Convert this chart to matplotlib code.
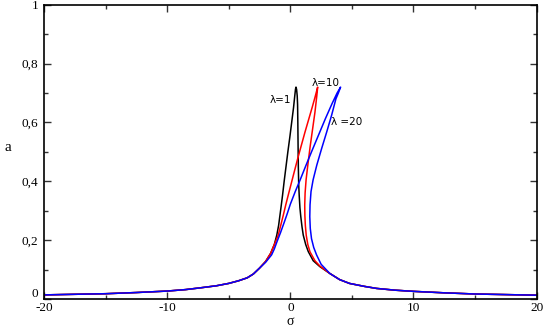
import matplotlib
import matplotlib.pyplot as plt
from matplotlib.ticker import MultipleLocator, FuncFormatter

matplotlib.use('Agg')

# values (sigma, a)
left_tail_sigma = [-20, -17.5, -15, -12.5, -10, -8.5, -7.3, -6, -5, -4.2, -3.5, -3.0, -2.5]
left_tail_a = [0.014, 0.016, 0.018, 0.022, 0.027, 0.032, 0.038, 0.045, 0.053, 0.062, 0.072, 0.085, 0.105]

right_tail_sigma = [3.2, 4.0, 4.8, 6.0, 7.0, 8.5, 10, 12.5, 15, 17.5, 20]
right_tail_a = [0.087, 0.066, 0.053, 0.043, 0.036, 0.030, 0.026, 0.021, 0.017, 0.015, 0.013]

# lambda = 1
l1_sigma = [-2.0, -1.6, -1.3, -1.1, -0.95, -0.84, -0.73, -0.63, -0.5, -0.35, -0.2, -0.04, 0.11, 0.26,
            0.36, 0.42, 0.46, 0.51, 0.56, 0.59, 0.61, 0.63, 0.65, 0.68, 0.72, 0.78, 0.85, 0.95, 1.05,
            1.25, 1.46, 1.86, 2.4]
l1_a = [0.128, 0.155, 0.185, 0.217, 0.25, 0.285, 0.32, 0.353, 0.40, 0.45, 0.50, 0.55, 0.60, 0.65,
        0.69, 0.713, 0.72, 0.712, 0.69, 0.66, 0.60, 0.52, 0.45, 0.39, 0.353, 0.31, 0.28, 0.245, 0.217,
        0.185, 0.161, 0.13, 0.11]

# lambda = 10
l10_sigma = [-2.0, -1.6, -1.35, -1.15, -0.98, -0.78, -0.57, -0.37, -0.17, 0.25, 0.63, 1.19, 1.78, 2.0,
             2.22, 2.15, 2.0, 1.8, 1.6, 1.42, 1.28, 1.2, 1.17, 1.18, 1.22, 1.29, 1.42, 1.6, 2.0, 2.4]
l10_a = [0.128, 0.155, 0.18, 0.2, 0.217, 0.25, 0.285, 0.32, 0.353, 0.421, 0.482, 0.567, 0.652, 0.685,
         0.72, 0.69, 0.635, 0.575, 0.515, 0.455, 0.405, 0.36, 0.32, 0.285, 0.25, 0.217, 0.185, 0.16,
         0.13, 0.112]

# lambda = 20
l20_sigma = [-2.0, -1.52, -1.3, -1.08, -0.8, -0.5, -0.25, 0.0, 0.4, 0.8, 1.25, 1.75, 2.3, 2.85, 3.4,
             3.8, 4.08, 3.9, 3.7, 3.35, 2.95, 2.54, 2.15, 1.85, 1.68, 1.6, 1.58, 1.62, 1.72, 1.9,
             2.13, 2.5]
l20_a = [0.125, 0.15, 0.17, 0.195, 0.225, 0.26, 0.29, 0.322, 0.365, 0.405, 0.452, 0.503, 0.558, 0.613,
         0.665, 0.70, 0.72, 0.70, 0.68, 0.624, 0.567, 0.511, 0.455, 0.405, 0.365, 0.32, 0.28, 0.24,
         0.205, 0.175, 0.15, 0.118]

curves = [(l1_sigma, l1_a, 'black'), (l10_sigma, l10_a, 'red'), (l20_sigma, l20_a, 'blue')]

fig = plt.figure(figsize=(5.45, 3.27), dpi=100)
ax = fig.add_axes([0.0807, 0.0856, 0.904, 0.9])

for s, a, c in curves:
    xs = left_tail_sigma + s + right_tail_sigma
    ys = left_tail_a + a + right_tail_a
    ax.plot(xs, ys, color=c, lw=1.1)

ax.text(0.05, 0.675, 'λ=1', fontsize=7.5, ha='right', va='center')
ax.text(1.75, 0.735, 'λ=10', fontsize=7.5, ha='left', va='center')
ax.text(3.3, 0.60, 'λ =20', fontsize=7.5, ha='left', va='center')

ax.set_xlim(-20, 20)
ax.set_ylim(0, 1)
ax.xaxis.set_major_locator(MultipleLocator(10))
ax.xaxis.set_minor_locator(MultipleLocator(5))
ax.yaxis.set_major_locator(MultipleLocator(0.2))
ax.yaxis.set_minor_locator(MultipleLocator(0.1))
# the "0" of the y axis is drawn by hand below, a bit higher, so it clears the "-20"
ax.yaxis.set_major_formatter(FuncFormatter(
    lambda v, p: '' if abs(v) < 1e-9 else ('%g' % round(v, 2)).replace('.', ',')))
ax.xaxis.set_major_formatter(FuncFormatter(lambda v, p: '%g' % v))

ax.tick_params(which='both', direction='in', top=True, right=True, colors='#333333',
               labelcolor='black', labelsize=9.5)
ax.tick_params(axis='y', pad=4)
ax.tick_params(axis='x', pad=2)
ax.tick_params(which='major', length=5, width=1)
ax.tick_params(which='minor', length=3, width=1)
for lab in ax.get_xticklabels() + ax.get_yticklabels():
    lab.set_family('Liberation Serif')
for sp in ax.spines.values():
    sp.set_linewidth(1.2)

ax.text(-0.011, 0.016, '0', transform=ax.transAxes, ha='right', va='center',
        family='Liberation Serif', fontsize=9.5)

ax.set_xlabel('σ', family='Liberation Serif', fontsize=10, va='center')
ax.set_ylabel('a', family='Liberation Serif', fontsize=11, rotation=0, va='center', ha='center')
ax.xaxis.set_label_coords(0.5, -0.076)
ax.yaxis.set_label_coords(-0.073, 0.516)

plt.savefig('out.png', dpi=100)
